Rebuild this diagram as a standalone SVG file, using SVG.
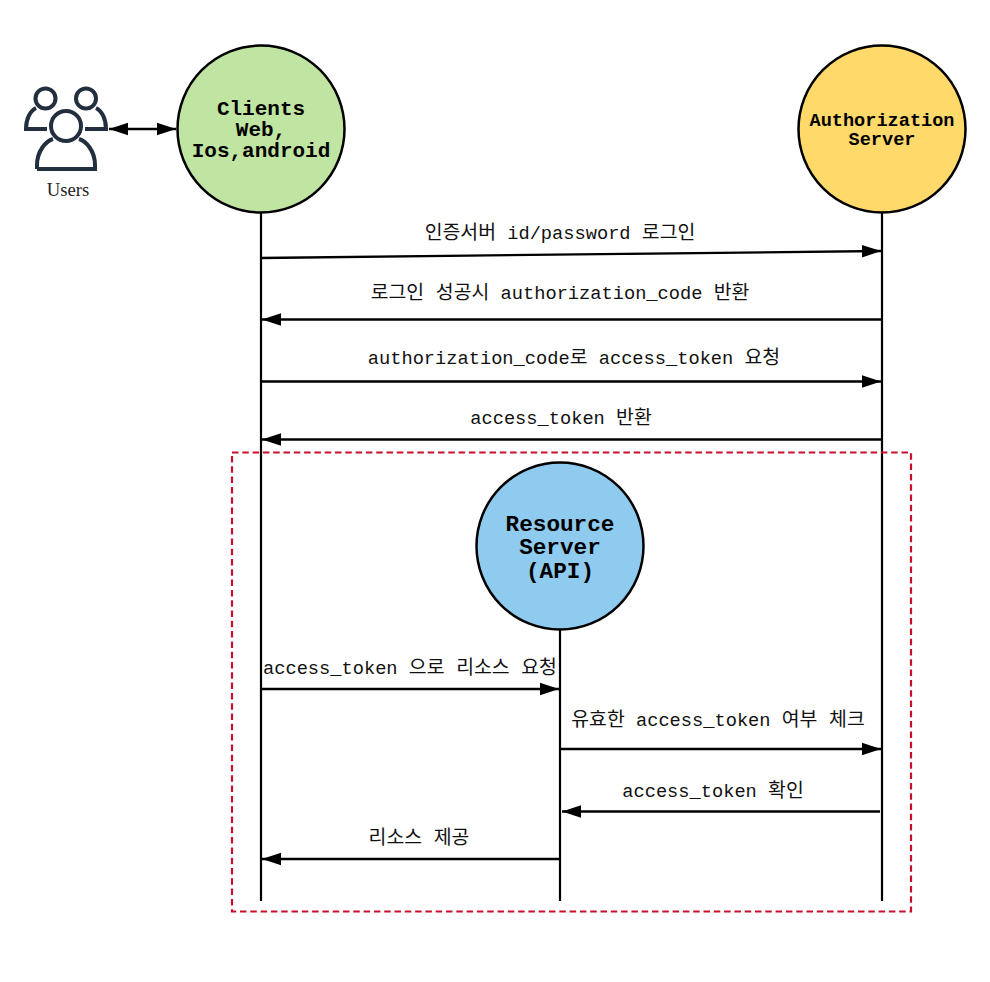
<svg xmlns="http://www.w3.org/2000/svg" width="990" height="982" viewBox="0 0 990 982">
<style>
.life{stroke:#000;stroke-width:2.2;fill:none}
.msg{stroke:#000;stroke-width:2.3;fill:none}
.end{marker-end:url(#arr)}
.node{stroke:#000;stroke-width:2.5}
.t{font-family:"Liberation Mono","Noto Sans CJK KR",monospace;font-size:18.7px;fill:#111;text-anchor:middle}
.k{font-size:19.4px}
.b{font-family:"Liberation Mono","Noto Sans CJK KR",monospace;font-weight:bold;fill:#000;text-anchor:middle}
.u{fill:none;stroke:#232f3e;stroke-width:4}
</style>
<defs>
<marker id="arr" markerUnits="userSpaceOnUse" markerWidth="20" markerHeight="14" refX="19" refY="7" orient="auto-start-reverse"><path d="M0 0.700L19 7L0 13.300Z" fill="#000"/></marker>
</defs>
<rect width="990" height="982" fill="#fff"/>
<g id="connectors">
<path class="life" d="M261 212V901"/>
<path class="life" d="M882 212V901"/>
<path class="life" d="M560 629V901"/>
<path class="msg" d="M109 129H176" marker-start="url(#arr)" marker-end="url(#arr)"/>
<path class="msg end" d="M261 258L881 251"/>
<path class="msg end" d="M881 319.500H262"/>
<path class="msg end" d="M261 381.500H881"/>
<path class="msg end" d="M881 439.500H262"/>
<path class="msg end" d="M261 689H559"/>
<path class="msg end" d="M561 749H881"/>
<path class="msg end" d="M880 811.500H562"/>
<path class="msg end" d="M559 859H262"/>
</g>
<rect id="boundary" x="232" y="452.500" width="679" height="459" fill="none" stroke="#c8102e" stroke-width="2.200" stroke-dasharray="6.500 3.800"/>
<g id="users">
<circle class="u" cx="45.500" cy="98.500" r="10"/>
<circle class="u" cx="86" cy="98.500" r="10"/>
<path class="u" d="M36 108C30 111 26 119 26 129H47"/>
<path class="u" d="M96 108C102 111 106 119 106 129H85"/>
<circle class="u" cx="66" cy="126" r="15"/>
<path class="u" d="M37 169V165C37 151 46 141 53 139M37 169H95V165C95 151 86 141 79 139"/>
<text x="68" y="195.500" font-family="Liberation Serif,serif" font-size="18.700px" text-anchor="middle" fill="#222">Users</text>
</g>
<g id="clients">
<circle class="node" cx="261" cy="129" r="83.500" fill="#c0e5a2"/>
<text class="b" font-size="21px"><tspan x="261" y="115">Clients</tspan><tspan x="261" y="136">Web,</tspan><tspan x="261" y="157">Ios,android</tspan></text>
</g>
<g id="auth">
<circle class="node" cx="882" cy="129" r="83.500" fill="#ffd96a"/>
<text class="b" font-size="18.600px"><tspan x="882" y="126">Authorization</tspan><tspan x="882" y="145">Server</tspan></text>
</g>
<g id="resource">
<circle class="node" cx="560" cy="546" r="83.500" fill="#8fcbee"/>
<text class="b" font-size="22.700px"><tspan x="560" y="530.500">Resource</tspan><tspan x="560" y="554">Server</tspan><tspan x="560" y="577.500">(API)</tspan></text>
</g>
<g id="labels">
<text class="t" x="560" y="239.200"><tspan class="k">인증서버</tspan> id/password <tspan class="k">로그인</tspan></text>
<text class="t" x="560" y="299.200"><tspan class="k">로그인 성공시</tspan> authorization_code <tspan class="k">반환</tspan></text>
<text class="t" x="574" y="364.200">authorization_code<tspan class="k">로</tspan> access_token <tspan class="k">요청</tspan></text>
<text class="t" x="561" y="424.200">access_token <tspan class="k">반환</tspan></text>
<text class="t" x="410" y="674.200">access_token <tspan class="k">으로 리소스 요청</tspan></text>
<text class="t" x="718" y="726.200"><tspan class="k">유효한</tspan> access_token <tspan class="k">여부 체크</tspan></text>
<text class="t" x="713" y="797.200">access_token <tspan class="k">확인</tspan></text>
<text class="t" x="419" y="844.200"><tspan class="k">리소스 제공</tspan></text>
</g>
</svg>
